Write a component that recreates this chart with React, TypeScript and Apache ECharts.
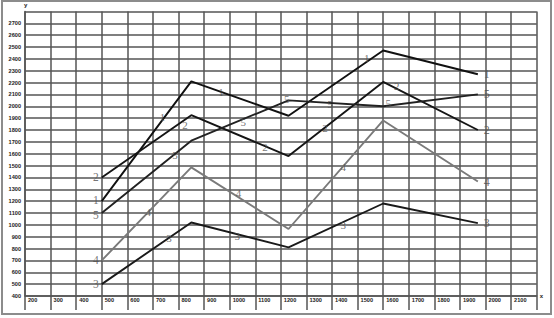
import React, { useEffect, useRef } from "react";
import * as echarts from "echarts";

const xValues = [500, 850, 1230, 1600, 1970];
const series1 = [1200, 2210, 1920, 2470, 2270];
const series2 = [1400, 1925, 1580, 2205, 1800];
const series3 = [500, 1020, 810, 1180, 1015];
const series4 = [700, 1485, 965, 1880, 1365];
const series5 = [1100, 1710, 2050, 2000, 2100];
const seriesNames = ["1", "2", "3", "4", "5"];

// label anchors along the lines (data coordinates)
const labels1 = [[737, 1912], [966, 2123], [1536, 2404]];
const labels2 = [[825, 1842], [1138, 1659], [1373, 1814], [1653, 2171]];
const labels3 = [[763, 887], [1030, 906], [1444, 999]];
const labels4 = [[682, 1111], [1034, 1266], [1444, 1490]];
const labels5 = [[786, 1589], [1053, 1870], [1223, 2058], [1392, 2016], [1620, 2025]];

const Y_MIN = 400, Y_MAX = 2800, Y_STEP = 100;
const X_MIN = 200, X_MAX = 2200, X_STEP = 100;

const GRID = "#555555";
const LABEL_COLOR = "#505050";
const SERIF = "'Liberation Serif', 'DejaVu Serif', serif";
const SANS = "'Liberation Sans', Arial, sans-serif";

export default function App() {
  const ref = useRef<HTMLDivElement>(null);
  useEffect(() => {
    if (!ref.current) return;
    const chart = echarts.init(ref.current, undefined, { renderer: "svg" });
    const all = [series1, series2, series3, series4, series5];
    const colors = ["#111", "#151515", "#1a1a1a", "#7a7a7a", "#222"];
    const startNudge = [-1.5, 0, 0, 0, 2];
    const anchors = [labels1, labels2, labels3, labels4, labels5];
    const lineSeries = all.map((vals, i) => ({
      type: "line",
      name: seriesNames[i],
      symbol: "none",
      lineStyle: { color: colors[i], width: 1.9 },
      z: 5,
      data: vals.map((v, j) => [xValues[j], v]),
    }));
    const baseLabel = { color: LABEL_COLOR, fontFamily: SERIF };
    const endLabels = all.flatMap((vals, i) => [
      {
        value: [xValues[0], vals[0], seriesNames[i]],
        label: { ...baseLabel, position: "left", distance: 3, fontSize: 11.5, offset: [0, startNudge[i]] },
      },
      {
        value: [xValues[xValues.length - 1], vals[vals.length - 1], seriesNames[i]],
        label: { ...baseLabel, position: "right", distance: 6, fontSize: 12 },
      },
    ]);
    const midLabels = anchors.flatMap((arr, i) =>
      arr.map((a) => ({ value: [a[0], a[1], seriesNames[i]] }))
    );
    const labelSeries = {
      type: "scatter",
      symbolSize: 0,
      silent: true,
      z: 6,
      itemStyle: { color: LABEL_COLOR },
      label: {
        show: true,
        position: "inside",
        formatter: (p: any) => p.value[2],
        ...baseLabel,
        fontSize: 11,
      },
      data: [...endLabels, ...midLabels],
    };
    chart.setOption({
      animation: false,
      backgroundColor: "#ffffff",
      grid: { left: 25, right: 17.3, top: 11.4, bottom: 22 },
      xAxis: {
        type: "value",
        min: X_MIN,
        max: X_MAX,
        interval: X_STEP,
        name: "x",
        nameLocation: "end",
        nameGap: 3,
        nameTextStyle: { fontSize: 6, fontWeight: "bold", fontFamily: SANS, color: "#222", verticalAlign: "middle" },
        axisLine: { show: true, lineStyle: { color: GRID, width: 1.5 } },
        axisTick: { show: true, length: 14, lineStyle: { color: GRID, width: 1.5 } },
        splitLine: { show: true, lineStyle: { color: GRID, width: 1.5 } },
        axisLabel: {
          fontSize: 5.6,
          fontWeight: "bold",
          fontFamily: SANS,
          color: "#222",
          align: "left",
          margin: 1,
          padding: [0, 0, 0, 3],
          formatter: (v: number) => (v >= X_MAX ? "" : String(v)),
        },
      },
      yAxis: {
        type: "value",
        min: Y_MIN,
        max: Y_MAX,
        interval: Y_STEP,
        name: "y",
        nameLocation: "end",
        nameGap: 3,
        nameTextStyle: { fontSize: 6, fontWeight: "bold", fontFamily: SANS, color: "#222", align: "left", padding: [0, 0, 0, -1] },
        axisLine: { show: true, lineStyle: { color: GRID, width: 1.5 } },
        axisTick: { show: false },
        splitLine: { show: true, lineStyle: { color: GRID, width: 1.5 } },
        axisLabel: {
          fontSize: 5.6,
          fontWeight: "bold",
          fontFamily: SANS,
          color: "#222",
          margin: 4,
          padding: [0, 0, 4, 0],
          formatter: (v: number) => (v >= Y_MAX ? "" : String(v)),
        },
      },
      graphic: [
        {
          type: "rect",
          shape: { x: 2, y: 1, width: 549, height: 313 },
          style: { fill: "none", stroke: "#8c8c8c", lineWidth: 2 },
          silent: true,
          z: 100,
        },
      ],
      series: [...lineSeries, labelSeries],
    });
    return () => chart.dispose();
  }, []);
  return <div ref={ref} style={{ position: "absolute", left: 0, top: 0, width: 554, height: 318 }} />;
}
